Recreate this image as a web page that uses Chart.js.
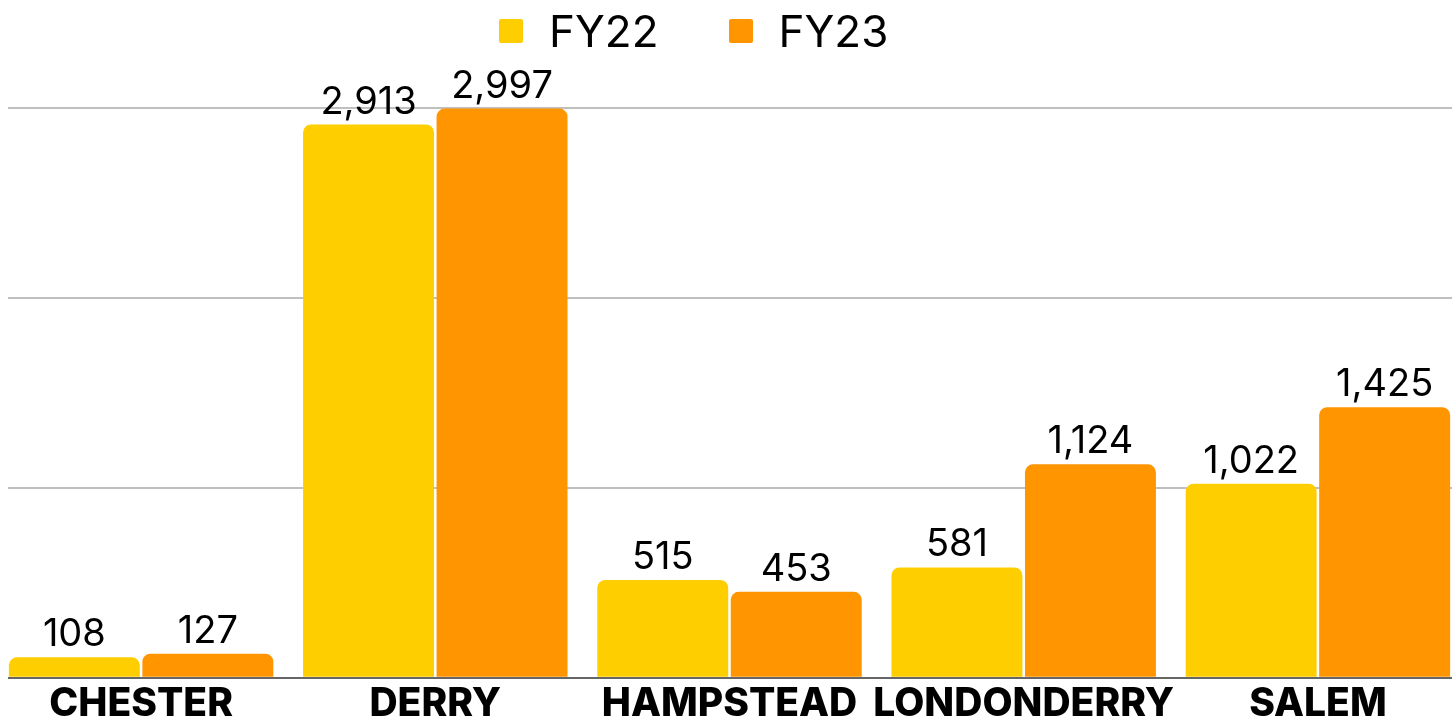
<!DOCTYPE html>
<html>
<head>
<meta charset="utf-8">
<script src="https://cdn.jsdelivr.net/npm/chart.js@4"></script>
<style>
    html, body { margin: 0; padding: 0; background: #fff; overflow: hidden; }
    #frame { position: absolute; left: 8px; top: 0; width: 1444px; height: 719px; overflow: hidden; }
    #holder { position: absolute; left: -14px; top: 0; width: 1471px; height: 731px; }
    #legend { position: absolute; left: 499px; top: 9px; display: flex; align-items: center;
              font-family: Inter, sans-serif; font-size: 44px; line-height: 44px; color: #000; }
    #legend .item { display: flex; align-items: center; margin-right: 70px; }
    #legend .box { width: 24px; height: 24px; border-radius: 2px; margin-right: 26px; }
</style>
</head>
<body>
<div id="frame"><div id="holder"><canvas id="salesChart"></canvas></div></div>
<div id="legend"></div>
<script>
const categories = ['CHESTER', 'DERRY', 'HAMPSTEAD', 'LONDONDERRY', 'SALEM'];
const fy22Values = [108, 2913, 515, 581, 1022];
const fy23Values = [127, 2997, 453, 1124, 1425];
const seriesNames = ['FY22', 'FY23'];
const seriesColors = ['#FFCE00', '#FF9500'];
const yTicks = [0, 1000, 2000, 3000];

document.addEventListener('DOMContentLoaded', function() {
    // value labels above each bar
    const valueLabels = {
        id: 'valueLabels',
        afterDatasetsDraw(chart) {
            const ctx = chart.ctx;
            ctx.save();
            ctx.font = '400 38px Inter, sans-serif';
            ctx.fillStyle = '#000';
            ctx.textAlign = 'center';
            ctx.textBaseline = 'alphabetic';
            chart.data.datasets.forEach((ds, i) => {
                chart.getDatasetMeta(i).data.forEach((bar, j) => {
                    ctx.fillText(ds.data[j].toLocaleString('en-US'), bar.x, bar.y - 11);
                });
            });
            ctx.restore();
        }
    };

    const ctx = document.getElementById('salesChart');
    const salesChart = new Chart(ctx, {
        type: 'bar',
        data: {
            labels: categories,
            datasets: [{
                label: seriesNames[0],
                data: fy22Values,
                backgroundColor: seriesColors[0],
                borderRadius: { topLeft: 8, topRight: 8 },
                borderSkipped: 'start'
            }, {
                label: seriesNames[1],
                data: fy23Values,
                backgroundColor: seriesColors[1],
                borderRadius: { topLeft: 8, topRight: 8 },
                borderSkipped: 'start'
            }]
        },
        options: {
            responsive: true,
            maintainAspectRatio: false,
            animation: false,
            categoryPercentage: 0.9075,
            barPercentage: 0.981,
            layout: { padding: { top: 108, left: 0, right: 0, bottom: 0 } },
            plugins: {
                legend: { display: false },
                tooltip: { enabled: false }
            },
            scales: {
                x: {
                    grid: { display: false, drawTicks: false },
                    border: { display: true, color: '#666666', width: 2 },
                    ticks: {
                        color: '#000',
                        padding: 10,
                        maxRotation: 0,
                        autoSkip: false,
                        font: { family: 'Inter, sans-serif', size: 39, weight: '800', lineHeight: 0.85 }
                    }
                },
                y: {
                    min: yTicks[0],
                    max: yTicks[yTicks.length - 1],
                    afterBuildTicks: function(scale) {
                        scale.ticks = yTicks.map(v => ({ value: v }));
                    },
                    grid: { color: '#BFBFBF', lineWidth: 2, drawTicks: false },
                    border: { display: false },
                    ticks: { display: false }
                }
            }
        },
        plugins: [valueLabels]
    });

    // legend built from the chart datasets
    const legend = document.getElementById('legend');
    salesChart.data.datasets.forEach(ds => {
        const item = document.createElement('div');
        item.className = 'item';
        const box = document.createElement('span');
        box.className = 'box';
        box.style.background = ds.backgroundColor;
        const text = document.createElement('span');
        text.textContent = ds.label;
        item.appendChild(box);
        item.appendChild(text);
        legend.appendChild(item);
    });
});
</script>
</body>
</html>
